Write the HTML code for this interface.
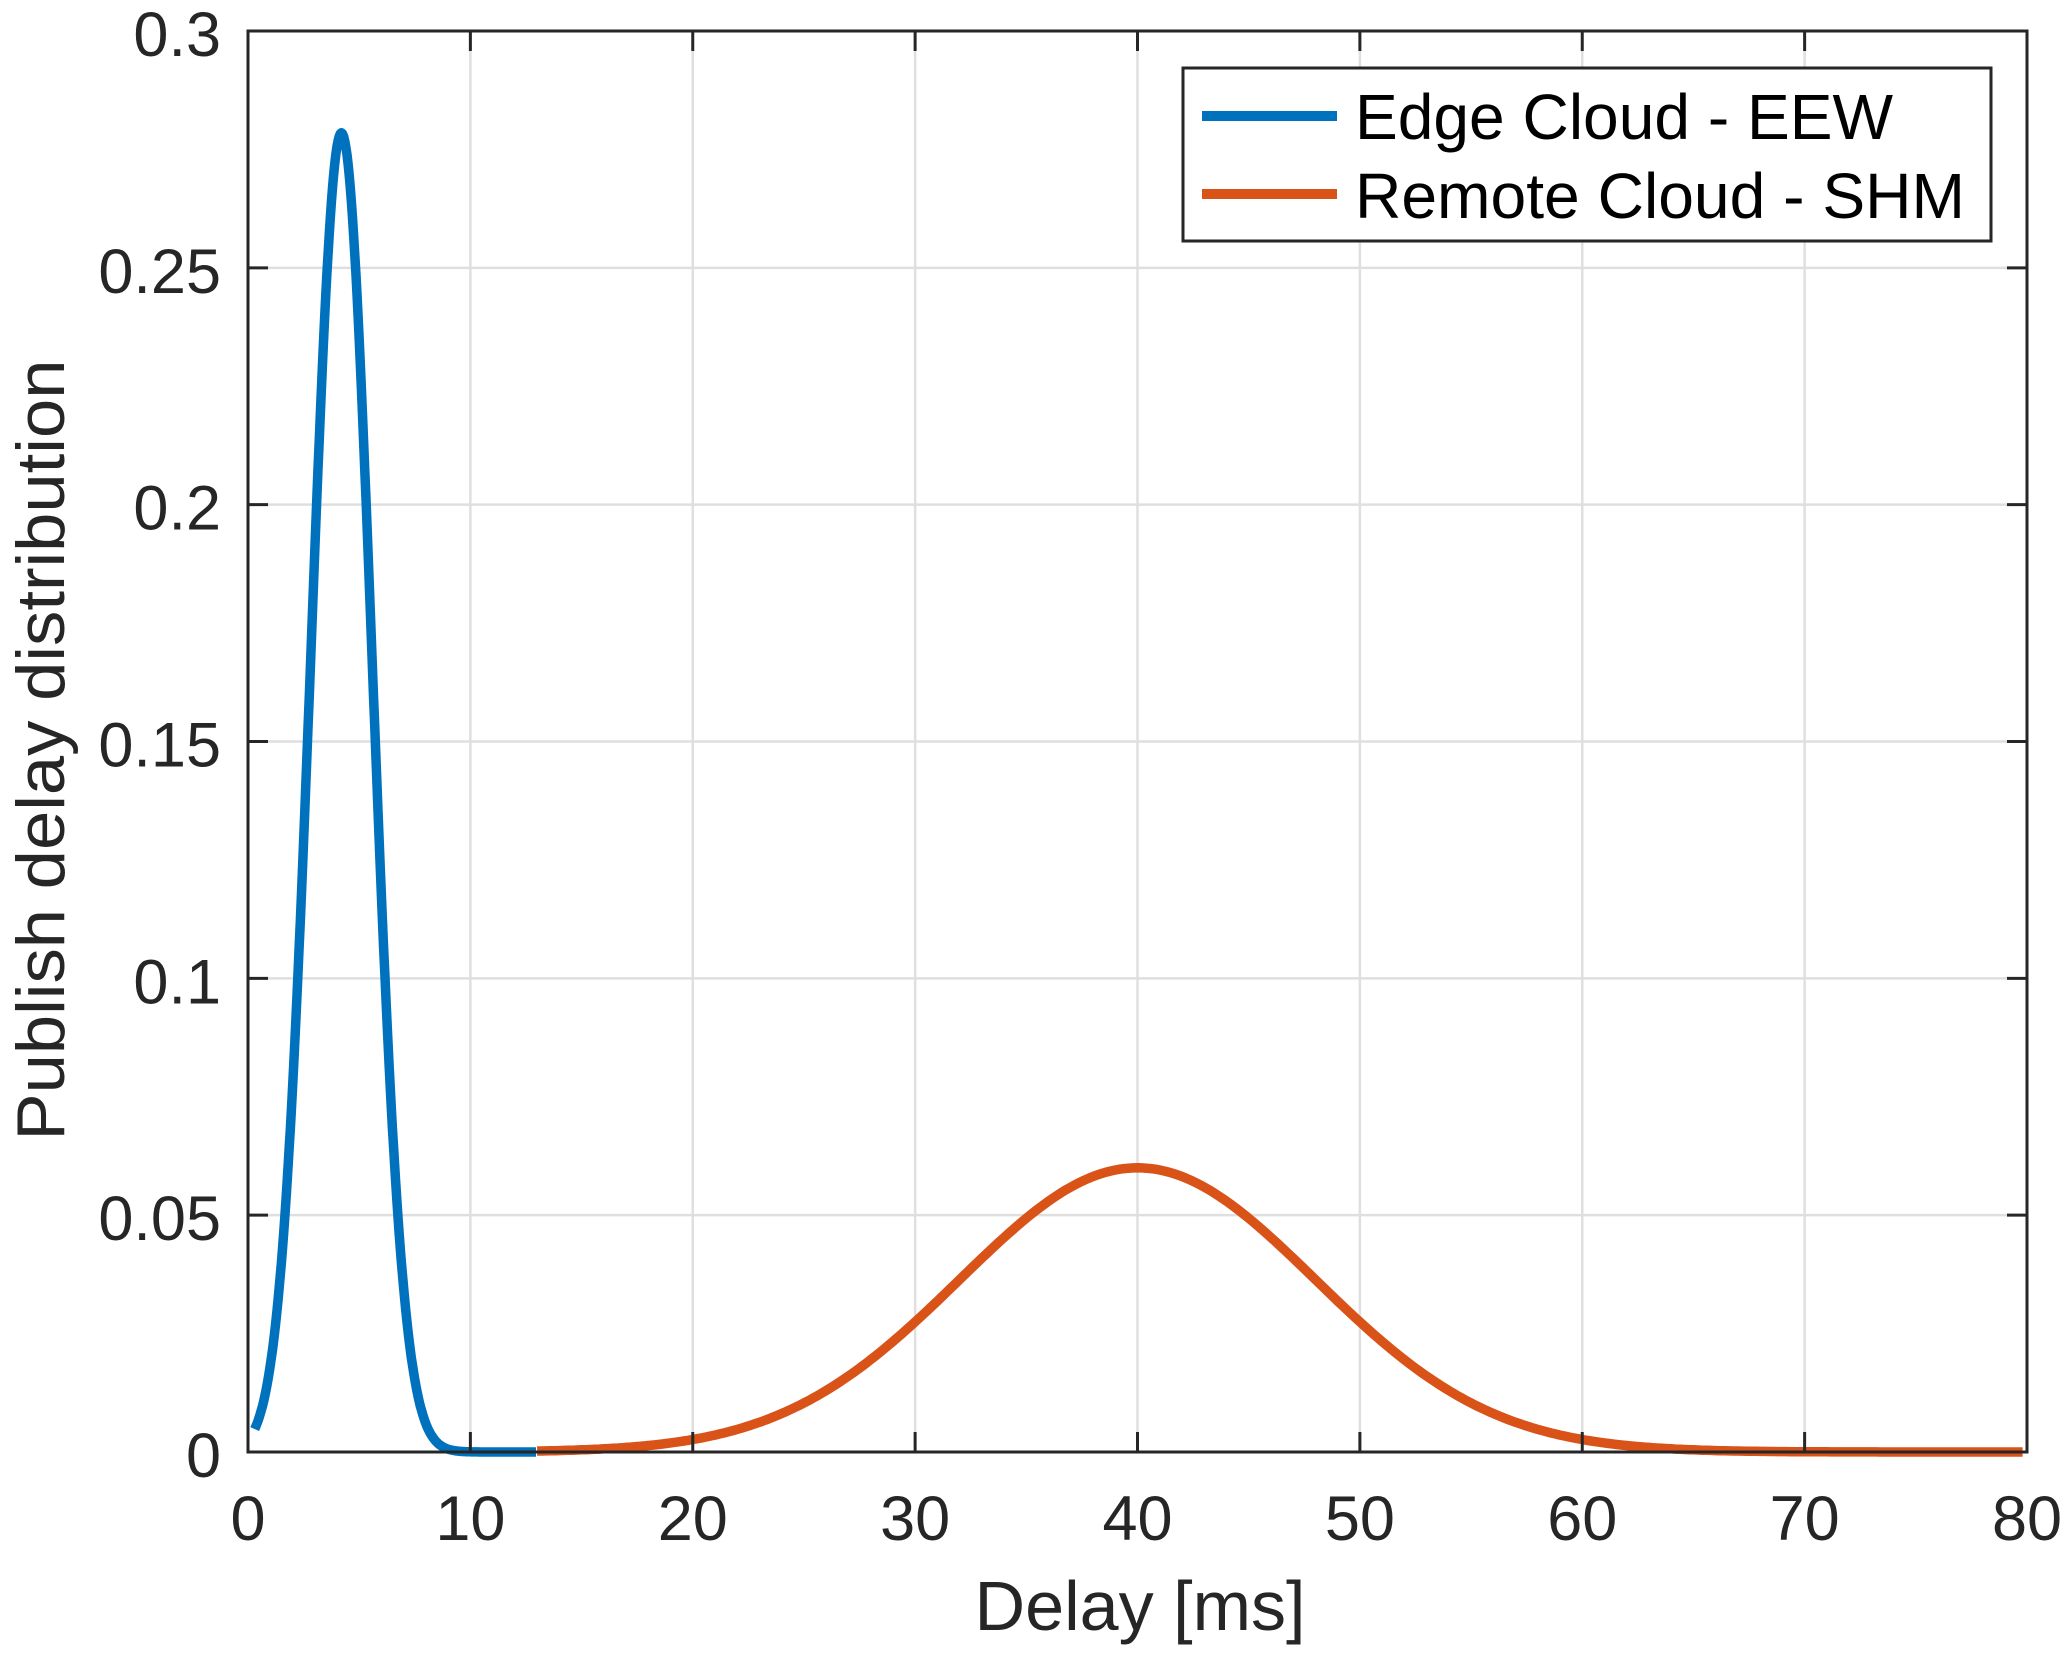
<!DOCTYPE html>
<html><head><meta charset="utf-8"><style>
html,body{margin:0;padding:0;background:#fff;}
svg{display:block;}
text{font-family:"Liberation Sans",sans-serif;fill:#262626;}
</style></head><body>
<svg id="s" width="2072" height="1656" viewBox="0 0 2072 1656" xmlns="http://www.w3.org/2000/svg">
<rect width="2072" height="1656" fill="#fff"/>
<g id="grid" stroke="#dfdfdf" stroke-width="2.5"></g>
<g id="curves" fill="none" stroke-width="9.5" stroke-linejoin="round"></g>
<rect x="248" y="31" width="1779" height="1421" fill="none" stroke="#262626" stroke-width="3"/>
<g id="ticks" stroke="#262626" stroke-width="3"></g>
<g id="labels" font-size="63"></g>
<text x="1140" y="1630" font-size="70" text-anchor="middle" textLength="331" lengthAdjust="spacingAndGlyphs">Delay [ms]</text>
<text transform="translate(64,750) rotate(-90)" font-size="68" text-anchor="middle" textLength="781" lengthAdjust="spacingAndGlyphs">Publish delay distribution</text>
<rect x="1183" y="68" width="808" height="173" fill="#fff" stroke="#262626" stroke-width="3"/>
<line x1="1202" y1="116" x2="1337" y2="116" stroke="#0072bd" stroke-width="10"/>
<line x1="1202" y1="194" x2="1337" y2="194" stroke="#d95319" stroke-width="10"/>
<text x="1355" y="139" font-size="64" style="fill:#000" textLength="538" lengthAdjust="spacingAndGlyphs">Edge Cloud - EEW</text>
<text x="1355" y="218" font-size="64" style="fill:#000" textLength="610" lengthAdjust="spacingAndGlyphs">Remote Cloud - SHM</text>
</svg>
<script>
var NS="http://www.w3.org/2000/svg";
function X(v){return 248+v*22.2375;}function Y(v){return 1452-v*4736.7;}
function el(p,t,a){var e=document.createElementNS(NS,t);for(var k in a)e.setAttribute(k,a[k]);document.getElementById(p).appendChild(e);return e;}
for(var i=1;i<8;i++){var x=X(i*10);el("grid","line",{x1:x,y1:31,x2:x,y2:1452});}
for(var j=1;j<6;j++){var y=Y(j*0.05);el("grid","line",{x1:248,y1:y,x2:2027,y2:y});}
for(var i=0;i<=8;i++){var x=X(i*10);el("ticks","line",{x1:x,y1:1452,x2:x,y2:1432});el("ticks","line",{x1:x,y1:31,x2:x,y2:51});
 var t=el("labels","text",{x:x,y:1540,"text-anchor":"middle"});t.textContent=i*10;}
var yl=["0","0.05","0.1","0.15","0.2","0.25","0.3"];
for(var j=0;j<=6;j++){var y=Y(j*0.05);el("ticks","line",{x1:248,y1:y,x2:268,y2:y});el("ticks","line",{x1:2027,y1:y,x2:2007,y2:y});
 var t=el("labels","text",{x:221,y:y+25,"text-anchor":"end"});t.textContent=yl[j];}
var d="";for(var v=0.3;v<=13;v+=0.05){var f=0.2785*Math.exp(-Math.pow(v-4.2,2)/(2*1.37*1.37));d+=(d?"L":"M")+X(v).toFixed(1)+","+Y(f).toFixed(1);}
el("curves","path",{d:d,stroke:"#0072bd"});
d="";for(var v=13;v<=80;v+=0.2){var f=0.06*Math.exp(-Math.pow(v-40,2)/(2*8*8));d+=(d?"L":"M")+X(v).toFixed(1)+","+Y(f).toFixed(1);}
el("curves","path",{d:d,stroke:"#d95319"});
</script>
</body></html>
